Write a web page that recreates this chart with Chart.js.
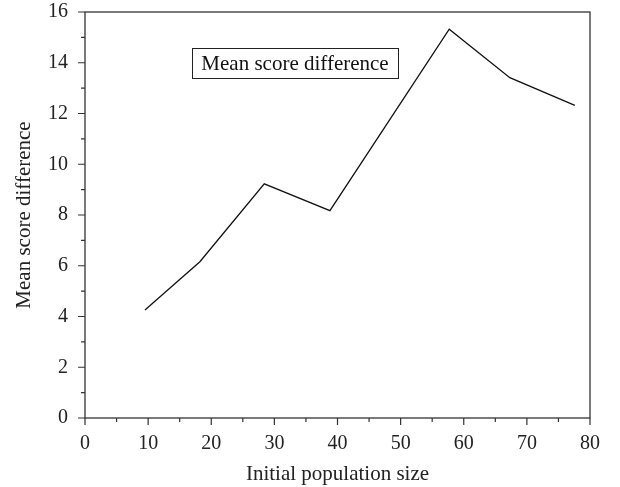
<!DOCTYPE html>
<html>
<head>
<meta charset="utf-8">
<script src="https://cdn.jsdelivr.net/npm/chart.js@4.4.0/dist/chart.umd.min.js"></script>
<style>
  html, body { margin: 0; padding: 0; background: #fff; }
  #wrap { width: 620px; height: 487px; }
</style>
</head>
<body>
<div id="wrap"><canvas id="myChart"></canvas></div>
<script>
// data
const popSizes = [9.5, 18.2, 28.4, 38.8, 57.7, 67.3, 77.6];
const meanDiff = [4.26, 6.16, 9.23, 8.17, 15.32, 13.41, 12.32];
const xMajorTicks = [0, 10, 20, 30, 40, 50, 60, 70, 80];
const xMinorTicks = [5, 15, 25, 35, 45, 55, 65, 75];
const yMajorTicks = [0, 2, 4, 6, 8, 10, 12, 14, 16];
const yMinorTicks = [1, 3, 5, 7, 9, 11, 13, 15];
const seriesName = 'Mean score difference';

const serif = "'Liberation Serif', 'DejaVu Serif', serif";
const axisColor = '#333';

// frame, tick marks and the boxed legend
const framePlugin = {
  id: 'frame',
  afterDraw(chart) {
    const { ctx, chartArea: a, scales } = chart;
    ctx.save();
    ctx.strokeStyle = axisColor;
    ctx.lineWidth = 1.3;
    ctx.strokeRect(a.left, a.top, a.right - a.left, a.bottom - a.top);

    ctx.lineWidth = 1.2;
    ctx.beginPath();
    xMajorTicks.forEach(v => {
      const x = scales.x.getPixelForValue(v);
      ctx.moveTo(x, a.bottom); ctx.lineTo(x, a.bottom + 7);
    });
    xMinorTicks.forEach(v => {
      const x = scales.x.getPixelForValue(v);
      ctx.moveTo(x, a.bottom); ctx.lineTo(x, a.bottom + 4);
    });
    yMajorTicks.forEach(v => {
      const y = scales.y.getPixelForValue(v);
      ctx.moveTo(a.left, y); ctx.lineTo(a.left - 7, y);
    });
    yMinorTicks.forEach(v => {
      const y = scales.y.getPixelForValue(v);
      ctx.moveTo(a.left, y); ctx.lineTo(a.left - 4, y);
    });
    ctx.stroke();

    // legend box
    ctx.font = '21px ' + serif;
    const label = chart.data.datasets[0].label;
    const bx = a.left + 107, by = a.top + 36, bw = 206, bh = 30;
    ctx.fillStyle = '#fff';
    ctx.fillRect(bx, by, bw, bh);
    ctx.strokeStyle = '#222';
    ctx.lineWidth = 1;
    ctx.strokeRect(bx + 0.5, by + 0.5, bw, bh);
    ctx.fillStyle = '#111';
    ctx.textBaseline = 'middle';
    ctx.textAlign = 'center';
    ctx.fillText(label, bx + bw / 2, by + bh / 2 + 1);
    ctx.restore();
  }
};

const myChart = new Chart(document.getElementById('myChart'), {
  type: 'line',
  data: {
    datasets: [{
      label: seriesName,
      data: popSizes.map((x, i) => ({ x: x, y: meanDiff[i] })),
      borderColor: '#111',
      borderWidth: 1.3,
      pointRadius: 0,
      fill: false,
      tension: 0
    }]
  },
  options: {
    responsive: true,
    maintainAspectRatio: false,
    animation: false,
    layout: { padding: { left: 0, right: 30, top: 12, bottom: 0 } },
    plugins: {
      legend: { display: false },
      tooltip: { enabled: false }
    },
    scales: {
      x: {
        type: 'linear',
        min: 0, max: 80,
        grid: { display: false, drawTicks: false },
        border: { display: false },
        ticks: { stepSize: 10, padding: 14, color: '#222', font: { family: serif, size: 20 }, maxRotation: 0 },
        title: { display: true, text: 'Initial population size', color: '#222', font: { family: serif, size: 21 }, padding: { top: 2, bottom: 0 } },
        afterFit(s) { s.height = 69; s.paddingLeft = 0; s.paddingRight = 0; }
      },
      y: {
        min: 0, max: 16,
        grid: { display: false, drawTicks: false },
        border: { display: false },
        ticks: { stepSize: 2, padding: 17, color: '#222', font: { family: serif, size: 20 } },
        title: { display: true, text: 'Mean score difference', color: '#222', font: { family: serif, size: 21 }, padding: { top: 12, bottom: 0 } },
        afterFit(s) { s.width = 85; s.paddingTop = 0; s.paddingBottom = 0; }
      }
    }
  },
  plugins: [framePlugin]
});
</script>
</body>
</html>
